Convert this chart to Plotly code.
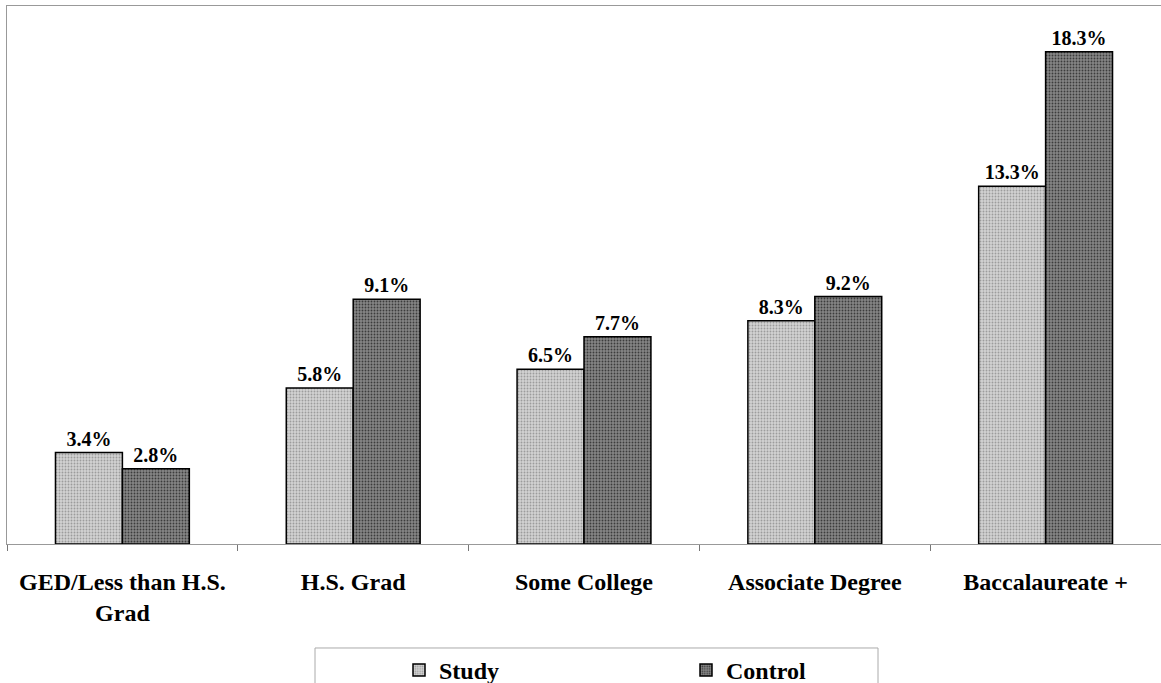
import plotly.graph_objects as go

categories = ['GED/Less than H.S.<br>Grad', 'H.S. Grad', 'Some College',
              'Associate Degree', 'Baccalaureate +']
study = [3.4, 5.8, 6.5, 8.3, 13.3]
control = [2.8, 9.1, 7.7, 9.2, 18.3]

font_family = 'Liberation Serif'

fig = go.Figure()

fig.add_trace(go.Bar(
    name='<b>Study</b>', x=categories, y=study,
    text=[f'<b>{v:.1f}%</b>' for v in study], textposition='outside',
    textfont=dict(size=20, color='black', family=font_family),
    marker=dict(color='#c4c4c4', line=dict(color='black', width=1.5),
                pattern=dict(shape='.', bgcolor='#d2d2d2', fgcolor='#9c9c9c',
                             size=3, solidity=0.3, fillmode='replace')),
    cliponaxis=False,
))
fig.add_trace(go.Bar(
    name='<b>Control</b>', x=categories, y=control,
    text=[f'<b>{v:.1f}%</b>' for v in control], textposition='outside',
    textfont=dict(size=20, color='black', family=font_family),
    marker=dict(color='#6a6a6a', line=dict(color='black', width=1.5),
                pattern=dict(shape='.', bgcolor='#858585', fgcolor='#3c3c3c',
                             size=3, solidity=0.3, fillmode='replace')),
    cliponaxis=False,
))

# legend frame
fig.add_shape(type='rect', xref='paper', yref='paper',
              x0=(315 - 7) / 1154, x1=(878 - 7) / 1154, y0=-0.40, y1=-0.1933,
              line=dict(color='#aaaaaa', width=1), fillcolor='rgba(0,0,0,0)')

fig.update_layout(
    width=1161, height=683,
    margin=dict(l=7, r=0, t=6, b=139, autoexpand=False),
    paper_bgcolor='white', plot_bgcolor='white',
    barmode='group', bargap=0.42, bargroupgap=0,
    font=dict(family=font_family, color='black'),
    showlegend=True,
    legend=dict(orientation='h', x=(399 - 7) / 1154, xanchor='left',
                y=-0.1933, yanchor='top',
                font=dict(size=24, family=font_family),
                entrywidth=242, borderwidth=0, itemwidth=30,
                bgcolor='rgba(0,0,0,0)'),
)
fig.update_xaxes(
    showline=True, linecolor='#999999', linewidth=1, mirror=True,
    ticks='outside', ticklen=6, tickcolor='#777777',
    tickson='boundaries', automargin=False,
    tickfont=dict(size=24, family=font_family),
    tickprefix='<b>', ticksuffix='</b>',
    ticklabelstandoff=16,
    showgrid=False,
)
fig.update_yaxes(
    range=[0, 20], showticklabels=False, showgrid=False, zeroline=False,
    showline=True, linecolor='#999999', linewidth=1, ticks='',
    automargin=False,
)

fig.write_html('out.html', config={'displayModeBar': False},
               post_script="document.body.style.margin='0px';document.body.style.overflow='hidden';")
